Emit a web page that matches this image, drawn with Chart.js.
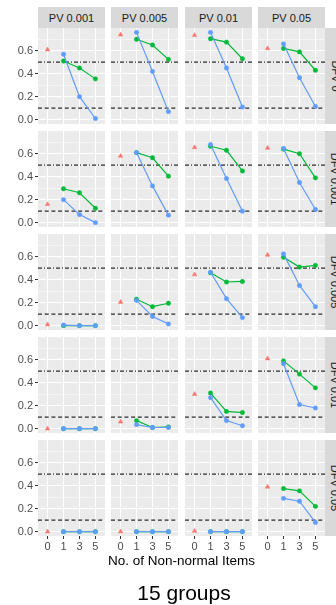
<!DOCTYPE html>
<html>
<head>
<meta charset="utf-8">
<script src="https://cdn.jsdelivr.net/npm/chart.js@4/dist/chart.umd.min.js"></script>
<style>
html,body{margin:0;padding:0;background:#fff;}
#wrap{position:relative;width:336px;height:605px;overflow:hidden;font-family:"Liberation Sans",Arial,sans-serif;}
canvas{position:absolute;}
.strip{position:absolute;background:#d9d9d9;color:#1a1a1a;font-size:11px;display:flex;align-items:center;justify-content:center;white-space:nowrap;}
.rstrip span{display:block;transform:rotate(90deg);}
.lbl{position:absolute;text-align:center;white-space:nowrap;color:#000;}
</style>
</head>
<body>
<div id="wrap"></div>
<script>
'use strict';

// facets
const PV_LABELS  = ['PV 0.001', 'PV 0.005', 'PV 0.01', 'PV 0.05'];
const DFV_LABELS = ['DFV 0', 'DFV 0.001', 'DFV 0.005', 'DFV 0.01', 'DFV 0.05'];
const X_CATS = ['0', '1', '3', '5'];
const REF_DASHED = 0.1, REF_DOTDASH = 0.5;
const Y_GRID  = [0, 0.1, 0.2, 0.3, 0.4, 0.5, 0.6, 0.7];
const Y_MAJOR = [0, 0.2, 0.4, 0.6];

// red triangle at 0 non-normal items, rows = DFV, cols = PV
const BASELINE = [
    [0.61, 0.74, 0.735, 0.62],
    [0.16, 0.58, 0.655, 0.65],
    [0.01, 0.205, 0.445, 0.615],
    [0.0, 0.06, 0.30, 0.61],
    [0.0, 0.0, 0.005, 0.39]
];
// blue series at 1, 3, 5 items
const BLUE = [
    [[0.57, 0.20, 0.01], [0.76, 0.42, 0.07], [0.76, 0.45, 0.11], [0.66, 0.365, 0.115]],
    [[0.20, 0.07, 0.0], [0.61, 0.32, 0.065], [0.68, 0.385, 0.10], [0.645, 0.35, 0.115]],
    [[0.005, 0.0, 0.0], [0.22, 0.08, 0.015], [0.465, 0.235, 0.07], [0.625, 0.35, 0.165]],
    [[0.0, 0.0, 0.0], [0.035, 0.01, 0.01], [0.27, 0.07, 0.025], [0.565, 0.21, 0.18]],
    [[0.0, 0.0, 0.0], [0.0, 0.0, 0.0], [0.0, 0.0, 0.0], [0.29, 0.265, 0.08]]
];
// green series at 1, 3, 5 items
const GREEN = [
    [[0.51, 0.45, 0.355], [0.70, 0.65, 0.525], [0.705, 0.675, 0.53], [0.62, 0.59, 0.43]],
    [[0.295, 0.26, 0.125], [0.61, 0.565, 0.405], [0.665, 0.63, 0.45], [0.64, 0.60, 0.39]],
    [[0.0, 0.0, 0.0], [0.23, 0.165, 0.195], [0.46, 0.38, 0.385], [0.595, 0.51, 0.525]],
    [[0.0, 0.0, 0.0], [0.07, 0.01, 0.015], [0.31, 0.15, 0.14], [0.59, 0.475, 0.355]],
    [[0.0, 0.0, 0.0], [0.0, 0.0, 0.0], [0.0, 0.0, 0.0], [0.375, 0.355, 0.22]]
];

const Y_MIN = -0.038, Y_MAX = 0.798;
const X_MIN = -0.6, X_MAX = 3.6;

// layout (px)
const PANEL_L = [38, 111, 185, 258];
const PANEL_W = 67, PANEL_H = 96;
const PANEL_T = [28, 131, 234, 337, 440];
const YW = 38, XH = 18;
const FONT = '"Liberation Sans", Arial, sans-serif';

const wrap = document.getElementById('wrap');
const isMajor = v => Y_MAJOR.some(m => Math.abs(m - v) < 1e-9);

const panelBg = {
    id: 'panelBg',
    beforeDraw(ch) {
        const a = ch.chartArea, g = ch.ctx;
        g.save(); g.fillStyle = '#ebebeb';
        g.fillRect(a.left, a.top, a.right - a.left, a.bottom - a.top);
        g.restore();
    }
};

function hline(v, dash) {
    return { data: [{ x: X_MIN, y: v }, { x: X_MAX, y: v }], borderColor: '#2b2b2b', borderWidth: 1.2,
             borderDash: dash, pointRadius: 0, order: 5 };
}

function noPad(s) { s.paddingLeft = 0; s.paddingRight = 0; s.paddingTop = 0; s.paddingBottom = 0; }

function panel(r, c) {
    const left = c === 0, bottom = r === DFV_LABELS.length - 1;
    const cv = document.createElement('canvas');
    const w = PANEL_W + (left ? YW : 0), h = PANEL_H + (bottom ? XH : 0);
    cv.width = w; cv.height = h;
    cv.style.left = (PANEL_L[c] - (left ? YW : 0)) + 'px';
    cv.style.top = PANEL_T[r] + 'px';
    cv.style.width = w + 'px'; cv.style.height = h + 'px';
    wrap.appendChild(cv);

    const pts = arr => arr.map((v, i) => ({ x: i + 1, y: v }));
    new Chart(cv.getContext('2d'), {
        type: 'line',
        data: { datasets: [
            { data: pts(BLUE[r][c]), borderColor: '#619cff', backgroundColor: '#619cff', borderWidth: 1.2,
              pointRadius: 2.2, pointBorderWidth: 0.5, order: 0 },
            { data: pts(GREEN[r][c]), borderColor: '#00ba38', backgroundColor: '#00ba38', borderWidth: 1.2,
              pointRadius: 2.2, pointBorderWidth: 0.5, order: 1 },
            { data: [{ x: 0, y: BASELINE[r][c] }], showLine: false, pointStyle: 'triangle', pointRadius: 2.6,
              borderColor: '#f8766d', backgroundColor: '#f8766d', pointBorderWidth: 0.5, order: 2 },
            hline(REF_DASHED, [4, 2.7]),
            hline(REF_DOTDASH, [4, 2, 1, 2])
        ] },
        options: {
            responsive: false, animation: false, events: [],
            layout: { padding: 0, autoPadding: false },
            plugins: { legend: { display: false }, tooltip: { enabled: false } },
            elements: { line: { tension: 0 } },
            scales: {
                x: {
                    type: 'linear', min: X_MIN, max: X_MAX,
                    afterBuildTicks: s => { s.ticks = X_CATS.map((_, i) => ({ value: i })); },
                    afterFit: s => { s.height = bottom ? XH : 0; noPad(s); },
                    grid: { color: '#ffffff', lineWidth: 1, drawTicks: bottom, tickLength: 3, tickWidth: 1, tickColor: '#333333' },
                    border: { display: false },
                    ticks: { display: bottom, color: '#4d4d4d', font: { family: FONT, size: 11 }, padding: 1,
                             autoSkip: false, maxRotation: 0, callback: v => X_CATS[v] ?? '' }
                },
                y: {
                    min: Y_MIN, max: Y_MAX,
                    afterBuildTicks: s => { s.ticks = Y_GRID.map(v => ({ value: v })); },
                    afterFit: s => { s.width = left ? YW : 0; noPad(s); },
                    grid: { color: '#ffffff', lineWidth: ctx => (ctx.tick && isMajor(ctx.tick.value)) ? 1 : 0.5,
                            drawTicks: left, tickLength: 3, tickWidth: 1,
                            tickColor: ctx => (ctx.tick && isMajor(ctx.tick.value)) ? '#333333' : 'rgba(0,0,0,0)' },
                    border: { display: false },
                    ticks: { display: left, color: '#4d4d4d', font: { family: FONT, size: 11 }, padding: 2,
                             autoSkip: false, callback: v => isMajor(v) ? v.toFixed(1) : '' }
                }
            }
        },
        plugins: [panelBg]
    });
}

// strips
PV_LABELS.forEach((t, c) => {
    const d = document.createElement('div');
    d.className = 'strip';
    Object.assign(d.style, { left: PANEL_L[c] + 'px', top: '7px', width: PANEL_W + 'px', height: '21px' });
    d.textContent = t;
    wrap.appendChild(d);
});
DFV_LABELS.forEach((t, r) => {
    const d = document.createElement('div');
    d.className = 'strip rstrip';
    Object.assign(d.style, { left: '325px', top: PANEL_T[r] + 'px', width: '21px', height: PANEL_H + 'px' });
    const s = document.createElement('span'); s.textContent = t; d.appendChild(s);
    wrap.appendChild(d);
});

for (let r = 0; r < DFV_LABELS.length; r++)
    for (let c = 0; c < PV_LABELS.length; c++) panel(r, c);

const xt = document.createElement('div');
xt.className = 'lbl';
Object.assign(xt.style, { left: '38px', width: '287px', top: '553px', lineHeight: '16px', fontSize: '13.5px' });
xt.textContent = 'No. of Non-normal Items';
wrap.appendChild(xt);

const tt = document.createElement('div');
tt.className = 'lbl';
Object.assign(tt.style, { left: '84px', width: '200px', top: '580px', lineHeight: '26px', fontSize: '21px' });
tt.textContent = '15 groups';
wrap.appendChild(tt);
</script>
</body>
</html>
